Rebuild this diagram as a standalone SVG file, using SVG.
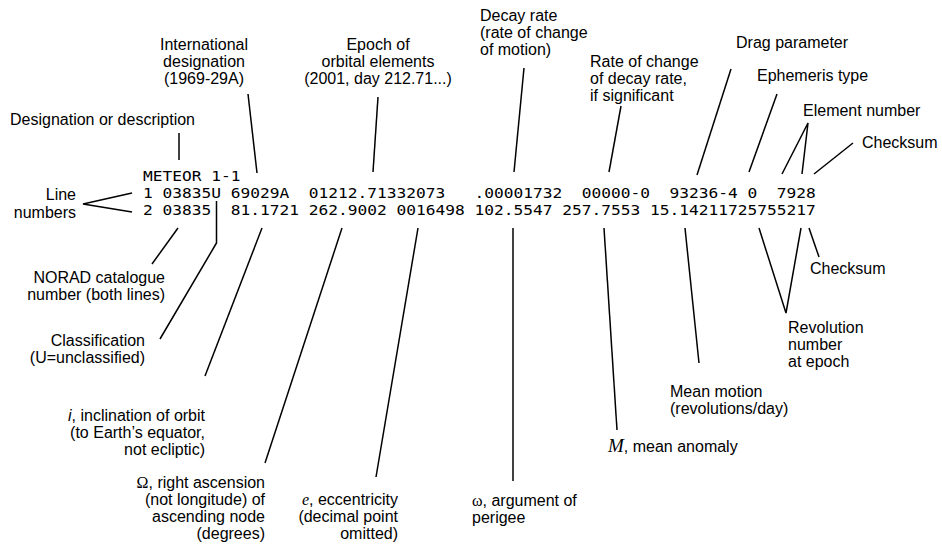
<svg xmlns="http://www.w3.org/2000/svg" width="942" height="546" viewBox="0 0 942 546">
  <style>
    .lbl { font-family: "Liberation Sans", Arial, sans-serif; font-size: 16px; fill: #000; }
    .end { text-anchor: end; }
    .mid { text-anchor: middle; }
    .tle { font-family: "DejaVu Sans Mono", "Liberation Mono", monospace; font-size: 14.5px; fill: #000; white-space: pre; }
    .sym { font-family: "Liberation Serif", "Times New Roman", serif; }
    .it { font-style: italic; }
    .conn line, .conn polyline { stroke: #000; stroke-width: 1.5; fill: none; }
  </style>
  <rect width="942" height="546" fill="#fff"/>

  <!-- the two-line element set -->
  <g id="tle">
    <text class="tle" x="143" y="181" textLength="97.5" lengthAdjust="spacingAndGlyphs" xml:space="preserve">METEOR 1-1</text>
    <text class="tle" x="143" y="198" textLength="672.75" lengthAdjust="spacingAndGlyphs" xml:space="preserve">1 03835U 69029A  01212.71332073   .00001732  00000-0  93236-4 0  7928</text>
    <text class="tle" x="143" y="215" textLength="672.75" lengthAdjust="spacingAndGlyphs" xml:space="preserve">2 03835  81.1721 262.9002 0016498 102.5547 257.7553 15.14211725755217</text>
  </g>

  <!-- leader lines -->
  <g id="connectors" class="conn">
    <line x1="179" y1="133" x2="179" y2="160"/>
    <line x1="248" y1="94" x2="257" y2="173"/>
    <line x1="378" y1="97" x2="373" y2="172"/>
    <line x1="524" y1="68" x2="514" y2="172"/>
    <line x1="621" y1="106" x2="609" y2="172"/>
    <line x1="731" y1="69" x2="697" y2="175"/>
    <line x1="777" y1="94" x2="749" y2="172"/>
    <polyline points="782,174 808,123 802,174"/>
    <line x1="853" y1="143" x2="814" y2="174"/>
    <polyline points="132,193 83,204 132,212"/>
    <line x1="178" y1="228" x2="152" y2="264"/>
    <polyline points="216.5,201 216.5,243 160,339"/>
    <line x1="262" y1="228" x2="205" y2="376"/>
    <line x1="342" y1="228" x2="265" y2="463"/>
    <line x1="418" y1="228" x2="376" y2="477"/>
    <line x1="513" y1="228" x2="513" y2="481"/>
    <line x1="604" y1="228" x2="617" y2="430"/>
    <line x1="685" y1="228" x2="699" y2="363"/>
    <polyline points="759,228 786,313 801,228"/>
    <line x1="809" y1="228" x2="819" y2="257"/>
  </g>

  <g id="designation">
    <text class="lbl" x="10" y="125">Designation or description</text>
  </g>
  <g id="intl-designation">
    <text class="lbl mid" x="204" y="50">International</text>
    <text class="lbl mid" x="204" y="67">designation</text>
    <text class="lbl mid" x="204" y="84">(1969-29A)</text>
  </g>
  <g id="epoch">
    <text class="lbl mid" x="378" y="50">Epoch of</text>
    <text class="lbl mid" x="378" y="67">orbital elements</text>
    <text class="lbl mid" x="378" y="84">(2001, day 212.71...)</text>
  </g>
  <g id="decay-rate">
    <text class="lbl" x="480" y="21">Decay rate</text>
    <text class="lbl" x="480" y="38">(rate of change</text>
    <text class="lbl" x="480" y="55">of motion)</text>
  </g>
  <g id="decay-rate-change">
    <text class="lbl" x="590" y="67">Rate of change</text>
    <text class="lbl" x="590" y="84">of decay rate,</text>
    <text class="lbl" x="590" y="101">if significant</text>
  </g>
  <g id="drag">
    <text class="lbl" x="736" y="48">Drag parameter</text>
  </g>
  <g id="ephemeris">
    <text class="lbl" x="757" y="81">Ephemeris type</text>
  </g>
  <g id="element-number">
    <text class="lbl" x="803" y="116">Element number</text>
  </g>
  <g id="checksum-1">
    <text class="lbl" x="862" y="148">Checksum</text>
  </g>
  <g id="line-numbers">
    <text class="lbl end" x="76" y="200">Line</text>
    <text class="lbl end" x="76" y="218">numbers</text>
  </g>
  <g id="norad">
    <text class="lbl end" x="165" y="283">NORAD catalogue</text>
    <text class="lbl end" x="165" y="300">number (both lines)</text>
  </g>
  <g id="classification">
    <text class="lbl end" x="145" y="346">Classification</text>
    <text class="lbl end" x="145" y="363">(U=unclassified)</text>
  </g>
  <g id="inclination">
    <text class="lbl end" x="205" y="421"><tspan class="it">i</tspan>, inclination of orbit</text>
    <text class="lbl end" x="205" y="438">(to Earth’s equator,</text>
    <text class="lbl end" x="205" y="455">not ecliptic)</text>
  </g>
  <g id="raan">
    <text class="lbl end" x="265" y="488"><tspan class="sym">Ω</tspan>, right ascension</text>
    <text class="lbl end" x="265" y="505">(not longitude) of</text>
    <text class="lbl end" x="265" y="522">ascending node</text>
    <text class="lbl end" x="265" y="539">(degrees)</text>
  </g>
  <g id="eccentricity">
    <text class="lbl end" x="398" y="505"><tspan class="sym it">e</tspan>, eccentricity</text>
    <text class="lbl end" x="398" y="522">(decimal point</text>
    <text class="lbl end" x="398" y="539">omitted)</text>
  </g>
  <g id="perigee">
    <text class="lbl" x="472" y="506"><tspan class="sym">ω</tspan>, argument of</text>
    <text class="lbl" x="472" y="523">perigee</text>
  </g>
  <g id="mean-anomaly">
    <text class="lbl" x="608" y="452"><tspan class="sym it" font-size="19">M</tspan>, mean anomaly</text>
  </g>
  <g id="mean-motion">
    <text class="lbl" x="670" y="397">Mean motion</text>
    <text class="lbl" x="670" y="414">(revolutions/day)</text>
  </g>
  <g id="revolution">
    <text class="lbl" x="788" y="333">Revolution</text>
    <text class="lbl" x="788" y="350">number</text>
    <text class="lbl" x="788" y="367">at epoch</text>
  </g>
  <g id="checksum-2">
    <text class="lbl" x="810" y="274">Checksum</text>
  </g>
</svg>
